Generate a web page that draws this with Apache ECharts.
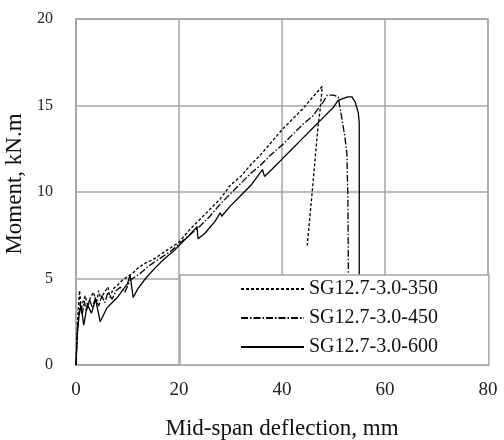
<!DOCTYPE html>
<html><head><meta charset="utf-8">
<script src="https://cdn.jsdelivr.net/npm/echarts@6/dist/echarts.min.js"></script>
<style>html,body{margin:0;padding:0;background:#fff}#c{width:504px;height:440px}</style>
</head><body><div id="c"></div>
<script>
const xTicks = [0, 20, 40, 60, 80];
const yTicks = [0, 5, 10, 15, 20];
const names = ['SG12.7-3.0-350', 'SG12.7-3.0-450', 'SG12.7-3.0-600'];

const x350 = [0, 0.2, 0.4, 0.7, 1.0, 1.3, 1.8, 2.3, 2.8, 3.4, 4.0, 4.4, 4.8, 5.5, 6.2, 6.6, 7.2, 8.0, 9.0, 10.0, 11.0, 12.0, 13.5, 15.0, 16.5, 18.0, 20.0, 22.0, 24.0, 26.0, 28.0, 30.0, 32.0, 34.0, 36.0, 38.0, 40.0, 42.0, 44.0, 46.0, 47.8, 47.5, 47.0, 46.4, 45.8, 45.3, 44.9];
const y350 = [0, 1.8, 3.0, 4.3, 3.2, 3.6, 4.0, 3.4, 3.9, 4.2, 3.6, 4.3, 3.8, 4.2, 4.5, 3.9, 4.4, 4.6, 4.9, 5.1, 5.3, 5.6, 5.9, 6.1, 6.4, 6.7, 7.1, 7.8, 8.4, 9.0, 9.6, 10.4, 10.9, 11.6, 12.2, 12.9, 13.6, 14.2, 14.8, 15.5, 16.1, 15.0, 13.8, 11.8, 9.8, 8.2, 6.9];

const x450 = [0, 0.2, 0.5, 0.8, 1.2, 1.6, 2.0, 2.6, 3.2, 3.8, 4.4, 5.0, 5.6, 6.2, 7.0, 7.8, 8.6, 9.5, 10.5, 11.5, 12.5, 14.0, 15.5, 17.0, 18.5, 20.0, 22.0, 24.0, 26.0, 28.0, 30.0, 32.0, 34.0, 36.0, 38.0, 40.0, 42.0, 44.0, 46.0, 48.0, 48.8, 50.0, 50.9, 51.6, 52.2, 52.6, 52.8, 52.9, 53.0];
const y450 = [0, 1.5, 2.6, 3.6, 2.9, 3.7, 3.1, 3.8, 3.3, 3.9, 3.4, 4.0, 3.6, 4.2, 3.8, 4.3, 4.5, 4.2, 4.9, 5.1, 5.3, 5.7, 6.0, 6.3, 6.6, 7.0, 7.5, 8.0, 8.6, 9.3, 9.9, 10.5, 11.1, 11.6, 12.2, 12.7, 13.3, 13.9, 14.4, 15.2, 15.6, 15.6, 15.5, 14.3, 13.2, 12.2, 9.5, 5.0, 0];

const x600 = [0, 0.1, 0.3, 0.6, 1.0, 1.5, 2.2, 3.0, 3.8, 4.7, 6.0, 7.0, 8.0, 9.0, 10.0, 10.5, 11.1, 12.0, 13.5, 15.0, 17.0, 19.0, 20.0, 22.0, 23.5, 23.7, 25.0, 27.0, 28.0, 28.3, 30.0, 32.0, 34.0, 36.2, 36.6, 38.0, 40.0, 42.0, 44.0, 46.0, 48.0, 50.0, 50.9, 51.8, 52.8, 53.6, 54.2, 54.8, 55.0, 55.0];
const y600 = [0, 0.8, 2.0, 2.9, 3.4, 2.3, 3.5, 3.0, 3.8, 2.5, 3.3, 3.6, 3.9, 4.3, 4.7, 5.2, 3.9, 4.4, 5.0, 5.5, 6.1, 6.6, 6.9, 7.5, 8.0, 7.3, 7.6, 8.3, 8.8, 8.6, 9.2, 9.8, 10.4, 11.3, 10.9, 11.3, 11.9, 12.5, 13.1, 13.7, 14.3, 14.9, 15.3, 15.4, 15.5, 15.5, 15.2, 14.6, 14.0, 0];

const zip = (a, b) => a.map((v, i) => [v, b[i]]);
const FONT = '"Liberation Serif", "Times New Roman", serif';
const GRID = '#a6a6a6';

const chart = echarts.init(document.getElementById('c'), null, {renderer: 'canvas'});
const mk = (name, data, type) => ({
  name, type: 'line', data, symbol: 'none', showSymbol: false, smooth: false,
  lineStyle: {color: '#000', width: 1.3, type},
  itemStyle: {color: '#000'},
  emphasis: {disabled: true},
  animation: false
});
chart.setOption({
  animation: false,
  backgroundColor: '#fff',
  grid: {left: 76, right: 16, top: 19, bottom: 75, show: true, borderColor: GRID, borderWidth: 1.5,
         containLabel: false, outerBoundsMode: 'none'},
  xAxis: {
    type: 'value', min: xTicks[0], max: xTicks[xTicks.length - 1], interval: 20,
    name: 'Mid-span deflection, mm', nameLocation: 'middle', nameGap: 52,
    nameTextStyle: {fontFamily: FONT, fontSize: 23, color: '#111'},
    axisLine: {show: true, lineStyle: {color: GRID, width: 1.5}},
    axisTick: {show: false},
    axisLabel: {fontFamily: FONT, fontSize: 19, color: '#222', margin: 16},
    splitLine: {show: true, lineStyle: {color: GRID, width: 1.5}}
  },
  yAxis: {
    type: 'value', min: yTicks[0], max: yTicks[yTicks.length - 1], interval: 5,
    name: 'Moment, kN.m', nameLocation: 'middle', nameGap: 43, nameRotate: 90,
    nameTextStyle: {fontFamily: FONT, fontSize: 23, color: '#111', padding: [0, 0, 0, 16]},
    axisLine: {show: true, lineStyle: {color: GRID, width: 1.5}},
    axisTick: {show: false},
    axisLabel: {fontFamily: FONT, fontSize: 16, color: '#222', margin: 23},
    splitLine: {show: true, lineStyle: {color: GRID, width: 1.5}}
  },
  legend: {
    show: true, orient: 'vertical', left: 180, top: 275,
    data: names,
    itemWidth: 63, itemHeight: 14, itemGap: 9,
    padding: [4, 51, 8, 60],
    backgroundColor: '#fff', borderColor: GRID, borderWidth: 1.5,
    itemStyle: {opacity: 0},
    textStyle: {fontFamily: FONT, fontSize: 20, color: '#111'},
    selectedMode: false
  },
  series: [
    mk(names[0], zip(x350, y350), [3, 2]),
    mk(names[1], zip(x450, y450), [7, 2, 1.5, 2]),
    mk(names[2], zip(x600, y600), 'solid')
  ]
});
</script></body></html>
